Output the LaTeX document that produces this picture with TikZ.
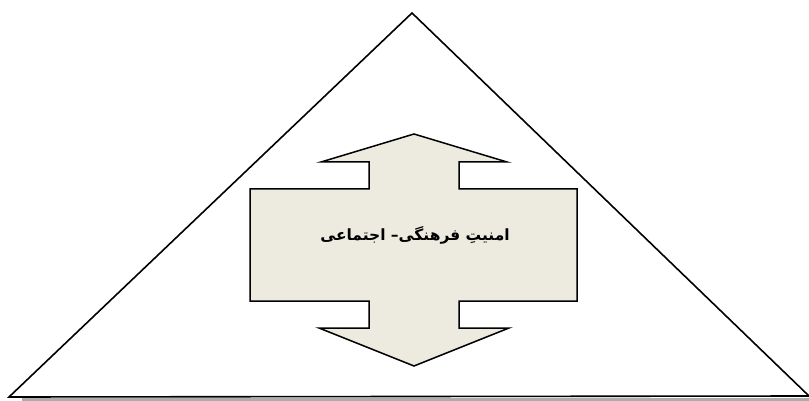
\documentclass[tikz,border=0pt]{standalone}
\usepackage{fontspec}
\newfontfamily\arabicfont[Script=Arabic]{DejaVu Sans}
\TeXXeTstate=1
\definecolor{paper}{RGB}{237,235,224}
\usetikzlibrary{calc}

\begin{document}
\begin{tikzpicture}[x=1pt, y=-1pt,
  outline/.style={draw=black, line width=1.6pt, line join=miter},
  crossfill/.style={draw=black, line width=1.5pt, fill=paper},
  caption/.style={font=\arabicfont\bfseries\fontsize{15.5}{18}\selectfont, inner sep=0pt},
]
\useasboundingbox (0,0) rectangle (809,401);

% Pyramid corners
\coordinate (apex) at (412,13);
\coordinate (baseL) at (9,397);
\coordinate (baseR) at (809,396);

% Shadow under the base
\fill[gray!65] (22,398) rectangle (809,400.5);
\draw[outline] (apex) -- (baseL) -- (baseR) -- cycle;

% Double arrow
\draw[crossfill] (414,134) -- (507,162) -- (459,162) -- (459,189) -- (577,189)
  -- (577,301) -- (459,301) -- (459,328) -- (509,328) -- (414,366)
  -- (319,328) -- (369,328) -- (369,301) -- (250,301) -- (250,189)
  -- (369,189) -- (369,162) -- (321,162) -- cycle;

% Label
\node[caption] (security) at (415,235) {\beginR امنیتِ فرهنگی– اجتماعی\endR};

\end{tikzpicture}
\end{document}
